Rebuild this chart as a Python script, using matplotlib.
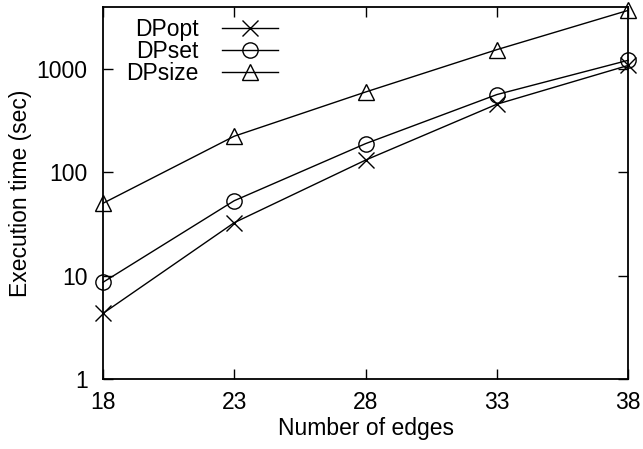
import matplotlib
matplotlib.use("Agg")
import matplotlib.pyplot as plt

# Execution time vs number of edges (log scale)
edges = [18, 23, 28, 33, 38]
dp_opt = [4.3, 32.5, 131, 455, 1080]
dp_set = [8.6, 53, 189, 564, 1210]
dp_size = [50, 223, 597, 1534, 3680]

plt.rcParams["font.family"] = ["Liberation Sans", "DejaVu Sans"]
plt.rcParams["font.size"] = 16.5

fig = plt.figure(figsize=(6.43, 4.49), dpi=100)
ax = fig.add_axes([0.160, 0.156, 0.817, 0.828])

style = dict(color="black", linewidth=1.0, markersize=11,
             markerfacecolor="none", markeredgecolor="black",
             markeredgewidth=1.0, clip_on=False)
ax.plot(edges, dp_opt, marker="x", label="DPopt", **style)
ax.plot(edges, dp_set, marker="o", label="DPset", **style)
ax.plot(edges, dp_size, marker="^", label="DPsize", **style)

ax.set_yscale("log")
ax.set_xlim(18, 38)
ax.set_ylim(1, 3950)
ax.set_xticks(edges)
ax.set_yticks([1, 10, 100, 1000])
ax.set_yticklabels(["1", "10", "100", "1000"])
ax.minorticks_off()
ax.tick_params(direction="in", length=7, width=1, top=True, right=True)
ax.tick_params(axis="x", pad=9)
ax.tick_params(axis="y", pad=11)

ax.set_xlabel("Number of edges", labelpad=2)
ax.set_ylabel("Execution time (sec)", labelpad=3)

for s in ax.spines.values():
    s.set_linewidth(1.3)

ax.legend(loc="upper left", bbox_to_anchor=(0.045, 0.972), frameon=False,
          markerfirst=False, handlelength=2.45, handletextpad=1.0,
          labelspacing=-0.03, borderaxespad=0.0, borderpad=0.0)

fig.savefig("out.png", dpi=100)
